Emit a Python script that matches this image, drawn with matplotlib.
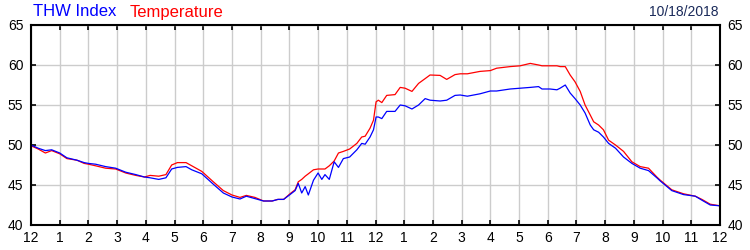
import matplotlib
matplotlib.use("Agg")
import matplotlib.pyplot as plt

plt.rcParams['font.family'] = ['Liberation Sans', 'DejaVu Sans']

# hours since 12 (noon) - readings
hours = [0.0, 0.25, 0.5, 0.72, 1.0, 1.25, 1.6, 1.85, 2.0, 2.25, 2.6, 2.95, 3.3, 3.65,
         3.95, 4.15, 4.45, 4.7, 4.9, 5.1, 5.4, 5.6, 5.95, 6.35, 6.7, 7.0, 7.28, 7.5,
         7.8, 8.1, 8.4, 8.6, 8.8, 9.02, 9.2, 9.31, 9.43, 9.55, 9.66, 9.84, 10.0, 10.13,
         10.24, 10.39, 10.56, 10.71, 10.88, 11.1, 11.35, 11.52, 11.64, 11.81, 11.93,
         12.02, 12.1, 12.22, 12.39, 12.68, 12.86, 13.03, 13.27, 13.5, 13.73, 13.9,
         14.25, 14.48, 14.77, 14.95, 15.2, 15.64, 16.0, 16.22, 16.69, 17.04, 17.39,
         17.68, 17.8, 18.08, 18.32, 18.43, 18.61, 18.78, 18.95, 19.13, 19.3, 19.48,
         19.6, 19.77, 19.94, 20.12, 20.36, 20.64, 20.93, 21.22, 21.51, 21.8, 21.92,
         22.32, 22.73, 23.14, 23.37, 23.66, 24.0]

temperature = [49.9, 49.5, 49.0, 49.3, 48.9, 48.3, 48.1, 47.7, 47.6, 47.4, 47.1, 47.0, 46.5, 46.2,
               46.0, 46.2, 46.1, 46.3, 47.5, 47.8, 47.8, 47.4, 46.7, 45.4, 44.3, 43.75, 43.45, 43.7,
               43.45, 43.0, 43.0, 43.2, 43.2, 43.9, 44.4, 45.4, 45.7, 46.1, 46.4, 46.9, 47.0, 47.0,
               47.0, 47.4, 48.0, 49.0, 49.2, 49.5, 50.2, 51.0, 51.1, 52.1, 53.1,
               55.4, 55.6, 55.3, 56.2, 56.3, 57.2, 57.1, 56.7, 57.7, 58.3, 58.75,
               58.7, 58.2, 58.8, 58.9, 58.9, 59.2, 59.3, 59.6, 59.8, 59.9, 60.2,
               60.0, 59.9, 59.9, 59.9, 59.8, 59.8, 58.75, 57.9, 56.7, 55.0, 53.75,
               52.9, 52.5, 51.9, 50.6, 50.0, 49.2, 47.9, 47.3, 47.1, 46.0, 45.6,
               44.4, 43.9, 43.6, 43.2, 42.6, 42.4]

thw_index = [50.0, 49.6, 49.3, 49.4, 49.0, 48.4, 48.1, 47.8, 47.7, 47.6, 47.3, 47.1, 46.6, 46.3,
             46.0, 45.9, 45.7, 45.9, 47.0, 47.2, 47.3, 46.9, 46.4, 45.1, 44.0, 43.5, 43.25, 43.6,
             43.3, 43.0, 43.0, 43.2, 43.2, 43.8, 44.3, 45.2, 44.0, 44.8, 43.75, 45.6, 46.5, 45.7,
             46.3, 45.7, 47.9, 47.2, 48.3, 48.5, 49.4, 50.2, 50.1, 51.0, 51.9,
             53.5, 53.5, 53.3, 54.2, 54.2, 55.0, 54.9, 54.5, 55.0, 55.8, 55.6,
             55.5, 55.6, 56.2, 56.25, 56.1, 56.4, 56.75, 56.75, 57.0, 57.1, 57.2,
             57.3, 57.0, 57.0, 56.9, 57.1, 57.5, 56.5, 55.8, 55.0, 54.0, 52.5,
             51.9, 51.6, 51.0, 50.2, 49.6, 48.5, 47.7, 47.1, 46.8, 45.9, 45.5,
             44.3, 43.8, 43.6, 43.1, 42.5, 42.4]

hour_labels = ['12', '1', '2', '3', '4', '5', '6', '7', '8', '9', '10', '11',
               '12', '1', '2', '3', '4', '5', '6', '7', '8', '9', '10', '11', '12']
y_ticks = [40, 45, 50, 55, 60, 65]
date_text = "10/18/2018"

fig = plt.figure(figsize=(7.5, 2.5), dpi=100)
ax = fig.add_axes([31 / 750, 0.1, 689 / 750, 0.8])

ax.plot(hours, temperature, color='#ff0000', lw=0.9)
ax.plot(hours, thw_index, color='#0000ff', lw=0.9)

ax.set_xlim(0, 24)
ax.set_ylim(40, 65)
ax.set_xticks(range(25))
ax.set_xticklabels(hour_labels)
ax.set_yticks(y_ticks)

ax.grid(True, color='#cccccc', lw=1.0)
ax.set_axisbelow(True)
for s in ax.spines.values():
    s.set_color('black')
    s.set_linewidth(1.5)

ax.tick_params(axis='both', direction='in', length=3.5, width=1.2, labelsize=10,
               top=True, right=True, labelright=True)
ax.tick_params(axis='y', pad=5.5)
ax.tick_params(axis='x', pad=4)

fig.text(33 / 750, 0.952, "THW Index", color='#0000ff', fontsize=12, va='center', ha='left')
fig.text(130 / 750, 0.952, "Temperature", color='#ff0000', fontsize=12, va='center', ha='left')
fig.text(718 / 750, 0.952, date_text, color='#1a2a5a', fontsize=10, va='center', ha='right')

fig.savefig("out.png", dpi=100)
